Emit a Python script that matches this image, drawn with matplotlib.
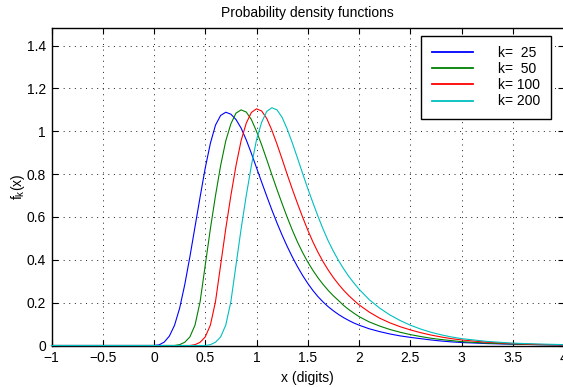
import matplotlib.pyplot as plt

# x values (digits) shared by all four curves
x_digits = [-1.0, 0.0, 0.05, 0.1, 0.15, 0.2, 0.25, 0.3, 0.35, 0.4, 0.45, 0.5,
            0.55, 0.6, 0.65, 0.7, 0.75, 0.8, 0.85, 0.9, 0.95, 1.0, 1.05, 1.1,
            1.15, 1.2, 1.25, 1.3, 1.35, 1.4, 1.45, 1.5, 1.55, 1.6, 1.65, 1.7,
            1.75, 1.8, 1.85, 1.9, 1.95, 2.0, 2.1, 2.2, 2.3, 2.4, 2.5, 2.6,
            2.7, 2.8, 2.9, 3.0, 3.25, 3.5, 3.75, 4.0]

# densities
f_k25 = [0.0, 0.0, 0.003, 0.016, 0.044, 0.094, 0.174, 0.284, 0.414, 0.554, 0.694, 0.829,
         0.944, 1.029, 1.074, 1.089, 1.08, 1.055, 1.015, 0.96, 0.897, 0.83, 0.763, 0.697,
         0.633, 0.572, 0.515, 0.462, 0.413, 0.368, 0.327, 0.29, 0.257, 0.228, 0.203, 0.181,
         0.162, 0.145, 0.13, 0.117, 0.105, 0.095, 0.078, 0.065, 0.054, 0.045, 0.038, 0.032,
         0.026, 0.021, 0.017, 0.014, 0.009, 0.006, 0.004, 0.002]

f_k50 = [0.0, 0.0, 0.0, 0.0, 0.0, 0.0, 0.004, 0.015, 0.04, 0.095, 0.205, 0.375,
         0.545, 0.70, 0.84, 0.955, 1.035, 1.085, 1.10, 1.09, 1.055, 1.00, 0.937, 0.868,
         0.797, 0.728, 0.662, 0.598, 0.538, 0.483, 0.434, 0.39, 0.351, 0.316, 0.285, 0.257,
         0.232, 0.21, 0.187, 0.168, 0.151, 0.135, 0.11, 0.091, 0.075, 0.062, 0.051, 0.042,
         0.034, 0.028, 0.023, 0.018, 0.011, 0.007, 0.004, 0.003]

f_k100 = [0.0, 0.0, 0.0, 0.0, 0.0, 0.0, 0.0, 0.0, 0.0, 0.004, 0.015, 0.04,
          0.095, 0.205, 0.375, 0.545, 0.70, 0.84, 0.957, 1.038, 1.088, 1.105, 1.095, 1.06,
          1.005, 0.94, 0.87, 0.798, 0.729, 0.663, 0.599, 0.539, 0.484, 0.435, 0.391, 0.352,
          0.317, 0.286, 0.258, 0.233, 0.211, 0.19, 0.156, 0.128, 0.106, 0.088, 0.073, 0.06,
          0.049, 0.04, 0.032, 0.026, 0.015, 0.009, 0.005, 0.003]

f_k200 = [0.0, 0.0, 0.0, 0.0, 0.0, 0.0, 0.0, 0.0, 0.0, 0.0, 0.0, 0.0,
          0.004, 0.015, 0.04, 0.095, 0.205, 0.375, 0.545, 0.70, 0.84, 0.96, 1.042, 1.093,
          1.11, 1.10, 1.065, 1.01, 0.945, 0.875, 0.803, 0.733, 0.667, 0.603, 0.543, 0.488,
          0.44, 0.397, 0.358, 0.323, 0.292, 0.263, 0.214, 0.175, 0.143, 0.117, 0.095, 0.077,
          0.062, 0.05, 0.04, 0.032, 0.019, 0.011, 0.007, 0.004]

labels = ['k=  25', 'k=  50', 'k= 100', 'k= 200']
colors = ['#0000ff', '#008000', '#ff0000', '#00bfbf']

x_ticks = [-1, -0.5, 0, 0.5, 1, 1.5, 2, 2.5, 3, 3.5, 4]
x_ticklabels = ['\u22121', '\u22120.5', '0', '0.5', '1', '1.5', '2', '2.5', '3', '3.5', '4']
y_ticks = [0, 0.2, 0.4, 0.6, 0.8, 1.0, 1.2, 1.4]
y_ticklabels = ['0', '0.2', '0.4', '0.6', '0.8', '1', '1.2', '1.4']

plt.rcParams['font.family'] = ['Liberation Sans', 'DejaVu Sans']
plt.rcParams['font.size'] = 10

fig = plt.figure(figsize=(5.63, 3.87), dpi=100)
ax = fig.add_axes([51.5 / 563, 1 - 345.5 / 387, (564 - 51.5) / 563, (345.5 - 28.5) / 387])

for y, c, lab in zip([f_k25, f_k50, f_k100, f_k200], colors, labels):
    ax.plot(x_digits, y, color=c, lw=0.8, label=lab, clip_on=False, zorder=3)

ax.set_xlim(-1, 4)
ax.set_ylim(0, 1.48)
ax.set_xticks(x_ticks)
ax.set_xticklabels(x_ticklabels)
ax.set_yticks(y_ticks)
ax.set_yticklabels(y_ticklabels)

ax.grid(True, color='black', lw=0.6, linestyle=(0, (1.2, 5.5)))
ax.tick_params(direction='in', top=True, right=True, length=4, width=0.8,
               labelsize=10, pad=4)
for s in ax.spines.values():
    s.set_linewidth(1.0)

ax.set_title('Probability density functions', fontsize=10, pad=8)
ax.set_xlabel('x (digits)', fontsize=10, labelpad=4)
ax.set_ylabel('f$_\\mathregular{k}$(x)', fontsize=10, labelpad=0)

leg = ax.legend(loc='upper right', bbox_to_anchor=(551 / 563, 1 - 35.7 / 387),
                bbox_transform=fig.transFigure, borderaxespad=0,
                fancybox=False, edgecolor='black', framealpha=1,
                handlelength=2.95, handletextpad=1.85, labelspacing=0.15,
                borderpad=0.75, fontsize=10)
leg.get_frame().set_linewidth(1.0)
for ln in leg.get_lines():
    ln.set_linewidth(1.3)

fig.savefig('out.png', dpi=100)
